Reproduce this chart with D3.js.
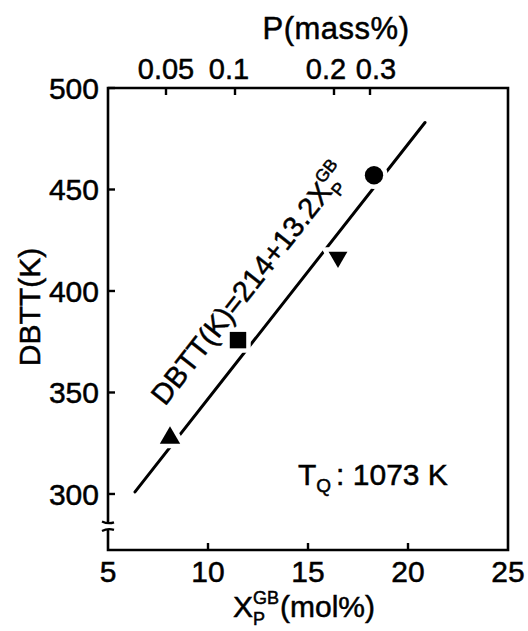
<!DOCTYPE html>
<html>
<head>
<meta charset="utf-8">
<script src="https://cdn.jsdelivr.net/npm/d3@7/dist/d3.min.js"></script>
<title>DBTT vs grain boundary P</title>
<style>
  body{ margin:0; background:#fff; }
  text{ font-family:"Liberation Sans", Arial, sans-serif; fill:#000; stroke:#000; stroke-width:0.5px; }
</style>
</head>
<body>
<script>
// data
var xTicks = [5, 10, 15, 20, 25],
    yTicks = [300, 350, 400, 450, 500],
    pLabels = ["0.05", "0.1", "0.2", "0.3"],
    pTickX = [7.9, 11.35, 16.3, 18.1],      // where each P(mass%) tick sits on the X scale
    shapes = ["triangle", "square", "triangleDown", "circle"],
    xpValues = [8.1, 11.5, 16.5, 18.3],
    dbttValues = [327.6, 375.8, 416.7, 457.0],
    fitX = [6.35, 20.85],
    fitY = [301, 483],
    breakY = [286, 282.3];

var w = 528, h = 631;

var svg = d3.select("body").append("svg")
    .attr("width", w)
    .attr("height", h);

var x = d3.scaleLinear().domain([5, 25]).range([108, 508]),
    y = d3.scaleLinear().domain([272.4, 500]).range([550, 88]);

var fs = 30;

// frame
var frame = svg.append("g")
    .attr("fill", "none")
    .attr("stroke", "#000")
    .attr("stroke-width", 2.6);

frame.append("path")
  .attr("d", "M" + x(5) + "," + y(breakY[0]) + "V" + y(500) + "H" + x(25) + "V" + y(272.4) + "H" + x(5) + "V" + y(breakY[1]));

// axis break marks
breakY.forEach(function(v, i){
  var yy = y(v);
  frame.append("path")
    .attr("stroke-width", 2.2)
    .attr("d", "M" + (x(5) - 6) + "," + (yy + (i ? 1 : -1)) + "Q" + x(5) + "," + (yy + (i ? -2 : 2)) + " " + (x(5) + 6) + "," + yy);
});

// y ticks (inward) + labels
svg.selectAll(".ytick")
  .data(yTicks)
  .enter().append("line")
    .attr("x1", x(5)).attr("x2", x(5) + 7)
    .attr("y1", function(d){ return y(d); })
    .attr("y2", function(d){ return y(d); })
    .attr("stroke", "#000").attr("stroke-width", 2.4);

svg.selectAll(".ylab")
  .data(yTicks)
  .enter().append("text")
    .attr("x", x(5) - 9)
    .attr("y", function(d){ return y(d) + 11; })
    .attr("text-anchor", "end")
    .attr("font-size", fs)
    .text(function(d){ return d; });

// x ticks (inward) + labels
svg.selectAll(".xtick")
  .data(xTicks.slice(1, -1))
  .enter().append("line")
    .attr("x1", function(d){ return x(d); })
    .attr("x2", function(d){ return x(d); })
    .attr("y1", y(272.4)).attr("y2", y(272.4) - 7)
    .attr("stroke", "#000").attr("stroke-width", 2.4);

svg.selectAll(".xlab")
  .data(xTicks)
  .enter().append("text")
    .attr("x", function(d){ return x(d); })
    .attr("y", 582)
    .attr("text-anchor", "middle")
    .attr("font-size", fs)
    .text(function(d){ return d; });

// top P(mass%) ticks
svg.selectAll(".ptick")
  .data(pTickX)
  .enter().append("line")
    .attr("x1", function(d){ return x(d); })
    .attr("x2", function(d){ return x(d); })
    .attr("y1", y(500)).attr("y2", y(500) + 7)
    .attr("stroke", "#000").attr("stroke-width", 2.4);

var pShift = [0, -6, -8, 6];
svg.selectAll(".plab")
  .data(pLabels)
  .enter().append("text")
    .attr("x", function(d, i){ return x(pTickX[i]) + pShift[i]; })
    .attr("y", 79)
    .attr("text-anchor", "middle")
    .attr("font-size", 29)
    .text(function(d){ return d; });

svg.append("text")
  .attr("x", 336).attr("y", 39)
  .attr("text-anchor", "middle")
  .attr("font-size", 31)
  .attr("letter-spacing", 0.5)
  .text("P(mass%)");

// y axis title
svg.append("text")
  .attr("transform", "translate(40,307) rotate(-90)")
  .attr("text-anchor", "middle")
  .attr("font-size", fs)
  .text("DBTT(K)");

// X_P^GB with stacked sub/superscript
function xpLabel(g, size, tail){
  var main = g.append("text").attr("font-size", size).text("X");
  var len = main.node().getComputedTextLength();
  g.append("text").attr("x", len).attr("y", size * 0.27)
    .attr("font-size", size * 0.6).text("P");
  var sup = g.append("text").attr("x", len).attr("y", -size * 0.45)
    .attr("font-size", size * 0.6).text("GB");
  var end = len + sup.node().getComputedTextLength();
  if (tail) g.append("text").attr("x", end + 1).attr("font-size", size).text(tail);
}

var xt = svg.append("g").attr("transform", "translate(233,617)");
xpLabel(xt, fs, "(mol%)");

// regression line
svg.append("line")
  .attr("x1", x(fitX[0])).attr("y1", y(fitY[0]))
  .attr("x2", x(fitX[1])).attr("y2", y(fitY[1]))
  .attr("stroke", "#000").attr("stroke-width", 3)
  .attr("stroke-linecap", "round");

// equation along the line
var ang = Math.atan2(y(fitY[1]) - y(fitY[0]), x(fitX[1]) - x(fitX[0])) * 180 / Math.PI;
var eq = svg.append("g")
  .attr("transform", "translate(" + x(7.85) + "," + y(343) + ") rotate(" + ang + ")");
var eqMain = eq.append("text").attr("font-size", 29).text("DBTT(K)=214+13.2");
var eqLen = eqMain.node().getComputedTextLength();
xpLabel(eq.append("g").attr("transform", "translate(" + eqLen + ",0)"), 29);

// markers, white halo cuts the line around them
var symType = {
  triangle: d3.symbolTriangle,
  triangleDown: d3.symbolTriangle,
  square: d3.symbolSquare,
  circle: d3.symbolCircle
};
var symSize = { triangle: 180, triangleDown: 155, square: 270, circle: 265 };

svg.selectAll(".pt")
  .data(xpValues)
  .enter().append("path")
    .attr("transform", function(d, i){
      return "translate(" + x(d) + "," + y(dbttValues[i]) + ")" + (shapes[i] == "triangleDown" ? " rotate(180)" : "");
    })
    .attr("d", function(d, i){ return d3.symbol().type(symType[shapes[i]]).size(symSize[shapes[i]])(); })
    .attr("fill", "#000")
    .attr("stroke", "#fff")
    .attr("stroke-width", 9)
    .attr("paint-order", "stroke");

// quench temperature note
var tq = svg.append("g").attr("transform", "translate(" + x(14.5) + "," + y(304.4) + ")");
var tT = tq.append("text").attr("font-size", fs).text("T");
var tLen = tT.node().getComputedTextLength();
var tSub = tq.append("text").attr("x", tLen).attr("y", 7).attr("font-size", 19).text("Q");
tq.append("text").attr("x", tLen + tSub.node().getComputedTextLength() + 5)
  .attr("font-size", fs).text(": 1073 K");
</script>
</body>
</html>
